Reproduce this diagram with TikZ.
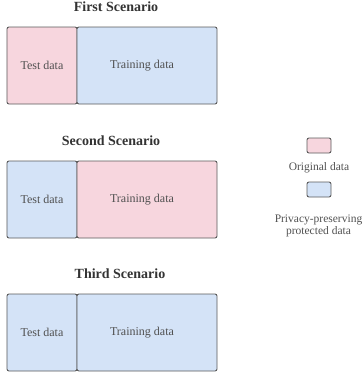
\documentclass[tikz,border=0pt]{standalone}
\usepackage{fontspec}
\setmainfont{Liberation Serif}
\definecolor{origpink}{RGB}{247,214,222}
\definecolor{protblue}{RGB}{212,227,247}
\definecolor{edgegray}{RGB}{90,90,90}
\definecolor{textgray}{RGB}{80,80,80}
\begin{document}
\begin{tikzpicture}[x=1bp, y=-1bp,
    databox/.style={draw=edgegray, line width=0.9bp, rounded corners=2bp,
      minimum height=77bp, inner sep=0pt, text=textgray,
      font=\fontsize{12bp}{14bp}\selectfont},
    keybox/.style={draw=edgegray, line width=0.9bp, rounded corners=2bp,
      minimum width=24bp, minimum height=15bp, inner sep=0pt},
    scentitle/.style={text=black!80, font=\bfseries\fontsize{14bp}{16bp}\selectfont},
    keytext/.style={text=textgray, align=center,
      font=\fontsize{11.5bp}{12.5bp}\selectfont}]
  \useasboundingbox (0,0) rectangle (363,374);
  % the three scenarios
  \foreach \lab/\tx/\ytop/\testcol/\traincol [count=\i] in
      {First/116/27/origpink/protblue,
       Second/111/161/protblue/origpink,
       Third/120/294/protblue/protblue} {
    \node[scentitle] (title\i) at (\tx,\ytop-20) {\lab\ Scenario};
    \node[databox, fill=\testcol, minimum width=70bp] (test\i) at (42,\ytop+38.5) {Test data};
    \node[databox, fill=\traincol, minimum width=140bp] (train\i) at (147,\ytop+38.5) {Training data\hspace*{10bp}};
  }
  % legend
  \node[keybox, fill=origpink] (origkey) at (319,145.5) {};
  \node[keytext] (origlab) at (319,168) {Original data};
  \node[keybox, fill=protblue] (protkey) at (319,189.5) {};
  \node[keytext] (protlab) at (318.5,226) {Privacy-preserving\\protected data};
\end{tikzpicture}
\end{document}
